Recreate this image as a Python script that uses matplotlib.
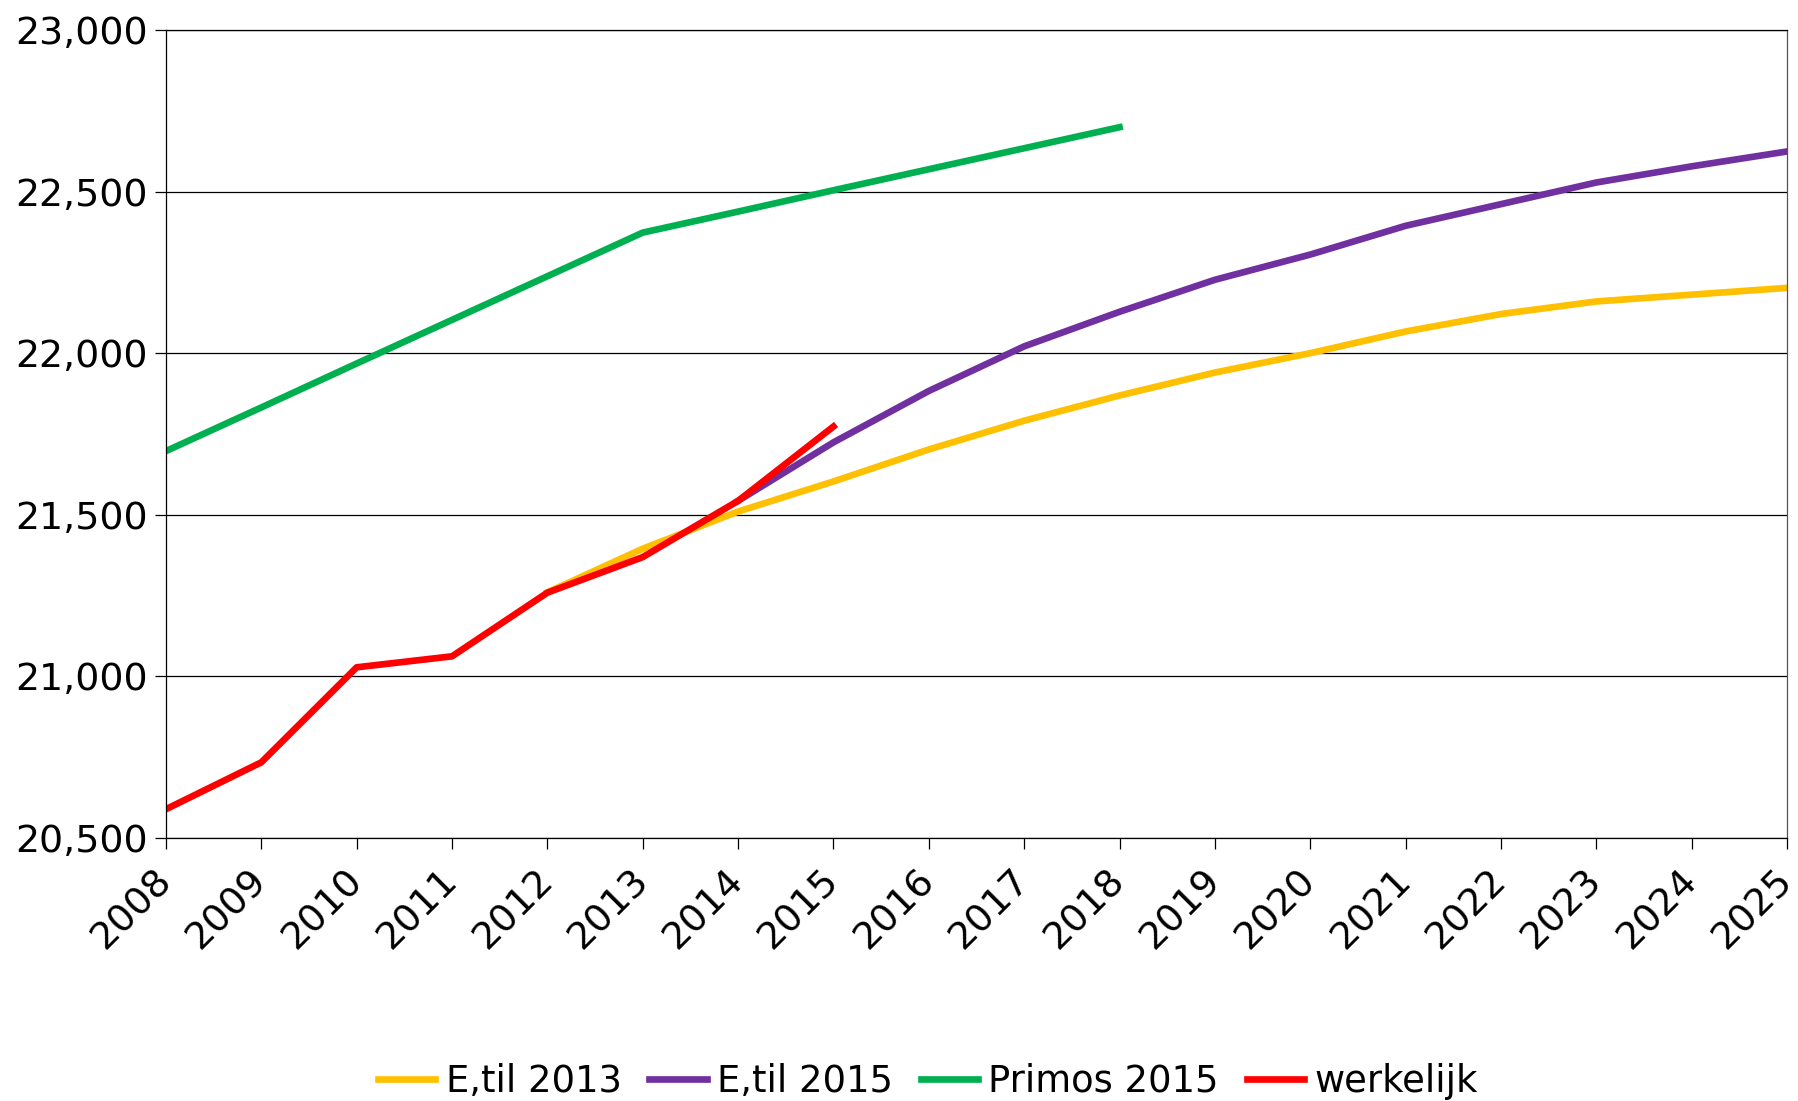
import matplotlib.pyplot as plt
from matplotlib.ticker import FuncFormatter

years = list(range(2008, 2026))

# E,til 2013 (from 2012)
etil2013_years = list(range(2012, 2026))
etil2013 = [21260, 21395, 21510, 21603, 21702, 21791, 21869, 21940, 22000,
            22067, 22121, 22160, 22181, 22202]

# E,til 2015 (from 2014)
etil2015_years = list(range(2014, 2026))
etil2015 = [21543, 21724, 21883, 22021, 22128, 22227, 22305, 22394, 22461,
            22528, 22578, 22624]

# Primos 2015
primos_years = list(range(2008, 2019))
primos = [21697, 21832, 21968, 22103, 22238, 22373, 22438, 22504, 22569,
          22634, 22699]

# werkelijk
werk_years = list(range(2008, 2016))
werkelijk = [20589, 20734, 21028, 21062, 21259, 21369, 21543, 21773]

fig = plt.figure(figsize=(17.98, 11.01), dpi=100)
ax = fig.add_axes([0.0923, 0.2389, 0.9016, 0.7339])

lw = 4.8
ax.plot(etil2013_years, etil2013, color="#FFC000", lw=lw, label="E,til 2013")
ax.plot(etil2015_years, etil2015, color="#7030A0", lw=lw, label="E,til 2015")
ax.plot(primos_years, primos, color="#00B050", lw=lw, label="Primos 2015")
ax.plot(werk_years, werkelijk, color="#FF0000", lw=lw, label="werkelijk")

ax.set_xlim(2008, 2025)
ax.set_ylim(20500, 23000)
ax.set_yticks(range(20500, 23001, 500))
ax.yaxis.set_major_formatter(FuncFormatter(lambda v, p: f"{int(v):,}"))
ax.set_xticks(years)
ax.set_xticklabels([str(y) for y in years], rotation=45, ha="right",
                   va="center", rotation_mode="anchor")

ax.grid(axis="y", color="black", lw=0.9)
ax.set_axisbelow(True)
for s in ax.spines.values():
    s.set_linewidth(0.9)
ax.spines["right"].set_color("#555555")
ax.tick_params(axis="both", direction="out", length=8, width=0.9,
               labelsize=27.3, colors="black")
ax.tick_params(axis="x", pad=19)
ax.tick_params(axis="y", pad=5)

fig.legend(loc="center", bbox_to_anchor=(0.516, 0.018), ncol=4,
           frameon=False, fontsize=26.6, handlelength=1.55,
           handletextpad=0.28, columnspacing=0.75)

fig.savefig("out.png", dpi=100)
